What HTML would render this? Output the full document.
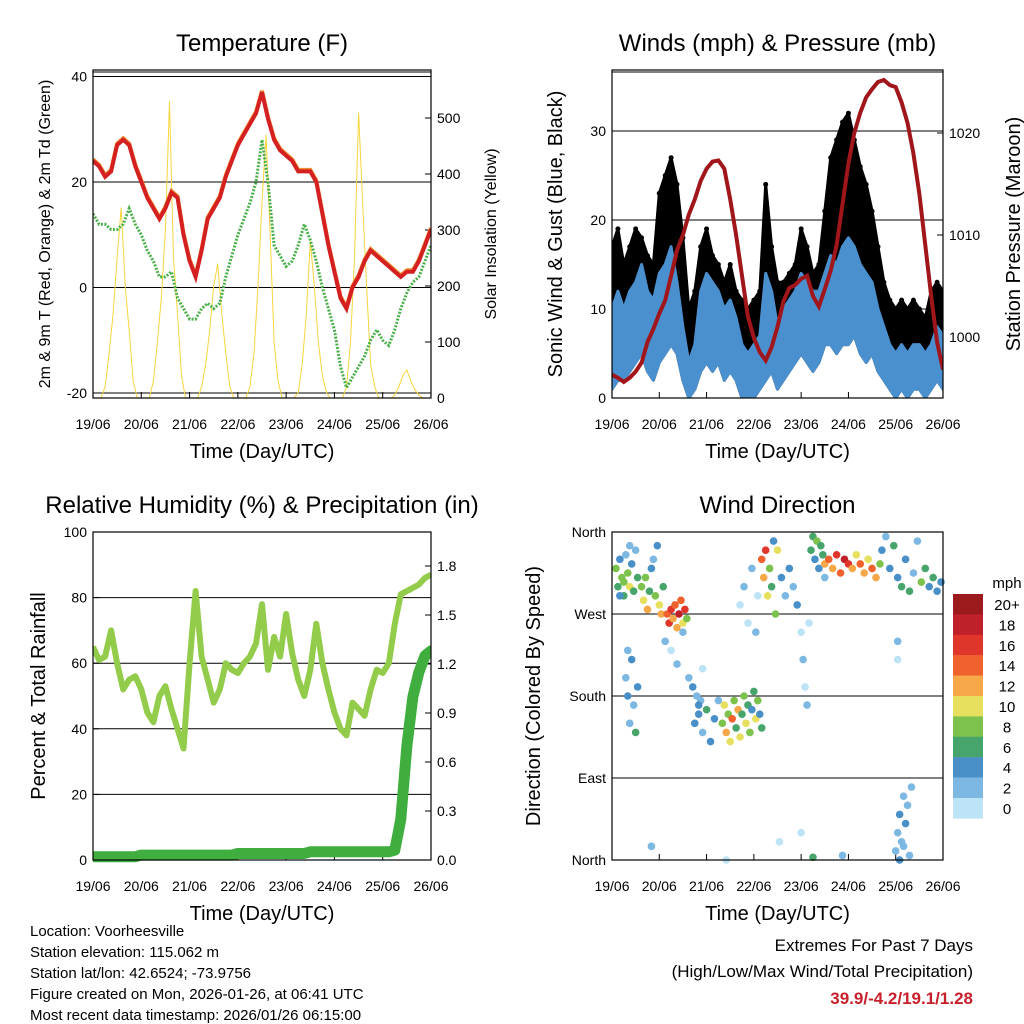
<!DOCTYPE html>
<html><head><meta charset="utf-8"><style>
body{margin:0;background:#fff;}
svg{display:block;font-family:"Liberation Sans",sans-serif;}
</style></head><body>
<svg id="s" width="1024" height="1024" viewBox="0 0 1024 1024">
<g font-size="15" fill="#000">
<text x="30" y="936">Location: Voorheesville</text>
<text x="30" y="957">Station elevation: 115.062 m</text>
<text x="30" y="978">Station lat/lon: 42.6524; -73.9756</text>
<text x="30" y="999">Figure created on Mon, 2026-01-26, at 06:41 UTC</text>
<text x="30" y="1020">Most recent data timestamp: 2026/01/26 06:15:00</text>
</g>
<g text-anchor="end">
<text x="973" y="951" font-size="17">Extremes For Past 7 Days</text>
<text x="973" y="977" font-size="17">(High/Low/Max Wind/Total Precipitation)</text>
<text x="973" y="1004" font-size="17" font-weight="bold" fill="#c8202a">39.9/-4.2/19.1/1.28</text>
</g>
</svg>
<script>
// ---- data (3-hourly, 19/06 00Z .. 26/06 00Z) ----
const dayLabels=["19/06","20/06","21/06","22/06","23/06","24/06","25/06","26/06"];
const tempF=[24,23,21,22,27,28,27,23,20,17,15,13,15,18,17,10,5,2,7,13,15,17,21,24,27,29,31,33,37,32,28,26,25,24,22,22,22,20,14,8,3,-2,-4,0,2,5,7,6,5,4,3,2,3,3,5,8,11];
const dewF=[14,12,12,11,11,12,15,12,10,7,5,2,2,3,-2,-4,-6,-6,-4,-3,-4,-3,2,6,10,13,16,20,28,20,8,6,4,5,8,12,9,5,0,-4,-8,-15,-19,-17,-15,-13,-10,-8,-10,-11,-8,-4,-1,1,2,5,8];
// solar every 2h
const solar=[0,0,0,20,80,150,250,340,200,120,30,0, 0,0,0,30,100,180,300,530,250,150,40,0, 0,0,0,20,60,120,200,240,150,80,20,0, 0,0,0,20,80,200,350,470,300,100,30,0, 0,0,0,10,60,150,280,200,100,40,10,0, 0,0,0,20,100,250,510,350,200,60,20,0, 0,0,0,5,20,40,50,30,15,5,0,0, 0];
const pressure=[996.3,996,995.6,996,996.6,997.5,999.5,1000.8,1002.3,1003.6,1006,1008.5,1010,1012,1013.5,1015.3,1016.5,1017.2,1017.3,1016.5,1013.5,1010,1006,1002,999.9,998.5,997.7,999,1001,1003.5,1004.8,1005.1,1005.7,1006,1004,1003,1004.7,1006.5,1009,1013,1017,1020,1022,1023.5,1024.3,1025,1025.2,1024.7,1024.5,1023,1021,1018,1014,1009,1004,999.5,996.8];
const windLo=[1,2,2,3,4,5,3,2,4,5,6,5,2,0,1,3,4,3,4,2,3,2,0,0,0,1,2,3,1,2,3,4,5,4,3,4,6,6,5,6,6,7,5,4,5,3,2,1,0,1,0,1,1,0,1,2,1];
const windHi=[10,12,10,12,13,15,12,11,14,15,17,13,8,4,6,12,14,13,12,10,11,9,6,5,6,7,14,12,8,10,11,12,14,13,12,12,14,16,15,17,18,17,15,14,13,10,8,6,5,6,5,6,6,5,6,8,7];
const gustHi=[17,19,15,17,19,18,16,15,23,25,27,24,18,10,12,17,19,16,15,13,15,12,11,10,11,12,24,17,13,13,14,15,19,17,14,15,21,27,29,31,32,29,26,24,21,17,13,11,10,11,10,11,10,9,12,13,12];
const rh=[65,61,62,70,60,52,55,56,52,45,42,50,53,46,40,34,60,82,62,55,48,52,60,58,57,60,62,66,78,58,68,62,75,63,55,50,58,72,60,52,45,40,38,48,46,44,52,58,57,60,72,81,82,83,84,86,87];
const rain=[0.02,0.02,0.02,0.02,0.02,0.02,0.02,0.02,0.03,0.03,0.03,0.03,0.03,0.03,0.03,0.03,0.03,0.03,0.03,0.03,0.03,0.03,0.03,0.03,0.04,0.04,0.04,0.04,0.04,0.04,0.04,0.04,0.04,0.04,0.04,0.04,0.05,0.05,0.05,0.05,0.05,0.05,0.05,0.05,0.05,0.05,0.05,0.05,0.05,0.05,0.06,0.25,0.7,1.0,1.15,1.25,1.28];
// wind direction points: [hour, degrees, mph]
const dirPts=[[2,320,8],[3,300,7],[4,330,4],[5,310,9],[6,290,6],[7,335,3],[8,315,8],[9,300,10],[10,325,5],[11,295,7],[12,340,3],[13,310,6],[6,305,8],[4,290,5],[9,345,2],
[7,200,3],[8,180,4],[9,150,2],[10,220,5],[11,170,3],[12,140,6],[8,230,2],[13,190,4],
[15,300,8],[16,285,10],[17,310,9],[18,275,12],[19,295,7],[20,320,5],[22,290,9],[24,280,11],[26,300,6],[25,270,13],[21,330,3],[23,345,4],
[28,270,14],[29,260,16],[30,275,17],[31,265,13],[32,280,15],[33,255,12],[34,270,18],[35,285,14],[36,260,11],[37,275,16],[38,265,9],
[27,240,2],[30,230,1],[33,215,3],[36,250,2],[39,200,3],[41,190,4],[43,180,2],[45,175,3],[46,210,1],[44,160,4],
[42,150,4],[44,170,5],[46,140,3],[48,165,6],[50,130,4],[52,155,5],[54,175,3],
[56,150,9],[57,170,10],[58,140,12],[59,160,8],[60,130,11],[61,155,14],[62,175,9],[63,145,7],[64,165,12],[65,135,10],[66,160,6],[67,180,8],[68,150,11],[69,170,7],[70,140,9],[71,165,5],[72,185,6],[73,155,10],[74,175,8],[75,160,4],[76,145,7],
[65,280,1],[67,300,2],[69,260,1],[71,320,2],[73,250,3],[74,290,1],
[76,330,14],[77,310,12],[78,340,16],[79,290,10],[80,320,8],[81,300,6],[82,350,4],[83,270,9],[84,340,11],
[86,310,4],[88,290,3],[90,320,5],[92,300,2],[94,280,4],[96,250,1],[97,220,2],[98,190,1],[99,170,2],[100,260,1],
[101,340,7],[102,355,6],[103,330,5],[104,350,8],[105,320,4],[106,345,7],[107,335,6],[108,310,3],
[108,325,13],[110,330,15],[112,320,12],[114,335,17],[116,315,14],[118,330,18],[120,325,16],[122,320,13],[124,335,11],[126,325,15],[128,315,12],[130,330,10],[132,320,14],[134,310,12],[136,325,9],
[137,340,4],[139,355,3],[141,320,5],[143,345,6],[145,310,4],[147,300,7],[149,330,5],[151,295,6],[153,315,3],[155,350,2],[157,305,8],[159,320,6],[161,300,5],[163,310,7],[165,295,4],[167,305,5],
[144,10,2],[145,30,3],[146,50,4],[147,20,3],[148,70,2],[149,40,4],[150,60,3],[151,5,2],[152,80,3],[146,0,4],[148,15,3],
[20,15,2],[58,0,1],[102,3,6],[85,20,1],[96,30,1],[117,5,2],[145,240,2],[145,220,1]];
const cbLabels=["20+","18","16","14","12","10","8","6","4","2","0"];
const cbColors=["#9b1a1e","#c0202a","#e0352b","#f0622d","#f6a748","#e7e05e","#7cc24d","#47a56c","#4a90c8","#7db8e2","#bde3f6"];

const NS="http://www.w3.org/2000/svg";
const svg=document.getElementById('s');
function mk(tag,at,parent){const e=document.createElementNS(NS,tag);for(const k in at)e.setAttribute(k,at[k]);(parent||svg).appendChild(e);return e;}
function txt(x,y,s,size,anchor,parent,rot){const e=mk('text',{x:x,y:y,'font-size':size,'text-anchor':anchor||'middle'},parent);if(rot)e.setAttribute('transform','rotate(-90 '+x+' '+y+')');e.textContent=s;return e;}
function lin(a,b,c,d){return v=>c+(v-a)*(d-c)/(b-a);}
function path(xs,ys,vals,xf,yf,st,parent){let d='';vals.forEach((v,i)=>{d+=(i?'L':'M')+xf(xs(i)).toFixed(1)+' '+yf(v).toFixed(1);});const p=mk('path',Object.assign({d:d,fill:'none'},st),parent);return p;}

function panel(name,x0,x1,y0,y1,title){
  const g=mk('g',{});
  
  
  const t=txt((x0+x1)/2,y0-19,title,24,'middle',g);
  
  
  const xt=txt((x0+x1)/2,y1+60,'Time (Day/UTC)',20,'middle',g);
  
  
  const xf=lin(0,7,x0,x1);
  dayLabels.forEach((l,i)=>{const x=xf(i);mk('line',{x1:x,x2:x,y1:y1,y2:y1-6,stroke:'#000'},g);
    const e=txt(x,y1+31,l,14,'middle',g);
    
    });
  return {g,xf};
}
function frame(g,x0,x1,y0,y1){mk('rect',{x:x0,y:y0,width:x1-x0,height:y1-y0,fill:'none',stroke:'#000','stroke-width':1.2},g);}
function clip(id,x0,x1,y0,y1){const c=mk('clipPath',{id:id});mk('rect',{x:x0,y:y0,width:x1-x0,height:y1-y0},c);}
function ytick(g,x,y,label,side){const dir=side==='l'?1:-1;mk('line',{x1:x,x2:x+dir*6,y1:y,y2:y,stroke:'#000'},g);
  const e=txt(side==='l'?x-6:x+6,y+5,label,14,side==='l'?'end':'start',g);
  
  }
function grid(g,x0,x1,y){mk('line',{x1:x0,x2:x1,y1:y,y2:y,stroke:'#000','stroke-width':1},g);}

// ===== Panel 1 Temperature =====
(function(){
const x0=93,x1=431,y0=70,y1=398;
const {g,xf}=panel('temperature-panel',x0,x1,y0,y1,'Temperature (F)');
clip('c1',x0,x1,y0,y1);
const yT=lin(0,20,287.5,182),yS=lin(0,100,398,342);
[-20,0,20,40].forEach(v=>{grid(g,x0,x1,yT(v));ytick(g,x0,yT(v),v,'l');});
grid(g,x0,x1,72);
[0,100,200,300,400,500].forEach(v=>ytick(g,x1,yS(v),v,'r'));
const cg=mk('g',{'clip-path':'url(#c1)'},g);
let sp=path(i=>i*2/24,null,solar,xf,yS,{stroke:'#f7d53c','stroke-width':1},cg);


let dp=path(i=>i*3/24,null,dewF,xf,yT,{stroke:'#4bb04a','stroke-width':3,'stroke-dasharray':'2 1.5'},cg);


let op=path(i=>i*3/24,null,tempF,xf,v=>yT(v)-1.5,{stroke:'#f08a30','stroke-width':4},cg);


let rp=path(i=>i*3/24,null,tempF,xf,yT,{stroke:'#d42020','stroke-width':4},cg);


frame(g,x0,x1,y0,y1);
let a=txt(50,234,'2m & 9m T (Red, Orange) & 2m Td (Green)',16,'middle',g,true);


a=txt(496,234,'Solar Insolation (Yellow)',16,'middle',g,true);


})();

// ===== Panel 2 Winds =====
(function(){
const x0=612,x1=943,y0=70,y1=398;
const {g,xf}=panel('winds-panel',x0,x1,y0,y1,'Winds (mph) & Pressure (mb)');
clip('c2',x0,x1,y0,y1);
const yW=lin(0,10,398,309),yP=lin(1000,1010,337,235);
[10,20,30].forEach(v=>grid(g,x0,x1,yW(v)));grid(g,x0,x1,72);
[0,10,20,30].forEach(v=>ytick(g,x0,yW(v),v,'l'));
[1000,1010,1020].forEach(v=>ytick(g,x1,yP(v),v,'r'));
const cg=mk('g',{'clip-path':'url(#c2)'},g);
const xs=i=>xf(i*3/24);
function band(lo,hi,color,name){let d='';hi.forEach((v,i)=>{d+=(i?'L':'M')+xs(i).toFixed(1)+' '+yW(v).toFixed(1);});
  for(let i=lo.length-1;i>=0;i--)d+='L'+xs(i).toFixed(1)+' '+yW(lo[i]).toFixed(1);d+='Z';
  const p=mk('path',{d:d,fill:color,stroke:color,'stroke-width':3,'stroke-linejoin':'round'},cg);
  
  }
band(windLo,gustHi,'#000','gust-band');
gustHi.forEach((v,i)=>{const c=mk('circle',{cx:xs(i),cy:yW(v),r:2.5,fill:'#000'},cg);
  
  });
band(windLo,windHi,'#4a90cf','wind-band');
let pp=path(i=>i*3/24,null,pressure,xf,yP,{stroke:'#a0161b','stroke-width':4},cg);


frame(g,x0,x1,y0,y1);
let a=txt(562,234,'Sonic Wind & Gust (Blue, Black)',20,'middle',g,true);


a=txt(1020,234,'Station Pressure (Maroon)',20,'middle',g,true);


})();

// ===== Panel 3 RH & Precip =====
(function(){
const x0=93,x1=431,y0=532,y1=860;
const {g,xf}=panel('humidity-panel',x0,x1,y0,y1,'Relative Humidity (%) & Precipitation (in)');
clip('c3',x0,x1,y0-8,y1+8);
const yR=lin(0,100,860,532),yN=lin(0,0.3,860,811);
[20,40,60,80].forEach(v=>grid(g,x0,x1,yR(v)));
[0,20,40,60,80,100].forEach(v=>ytick(g,x0,yR(v),v,'l'));
[0,0.3,0.6,0.9,1.2,1.5,1.8].forEach(v=>ytick(g,x1,yN(v),v.toFixed(1),'r'));
const cg=mk('g',{'clip-path':'url(#c3)'},g);
let rp=path(i=>i*3/24,null,rh,xf,yR,{stroke:'#92cc4a','stroke-width':6,'stroke-linejoin':'round'},cg);


let np=path(i=>i*3/24,null,rain,xf,yN,{stroke:'#3fae3f','stroke-width':11,'stroke-linecap':'round','stroke-linejoin':'round'},cg);


frame(g,x0,x1,y0,y1);
let a=txt(45,696,'Percent & Total Rainfall',20,'middle',g,true);


})();

// ===== Panel 4 Wind Direction =====
(function(){
const x0=612,x1=943,y0=532,y1=860;
const {g,xf}=panel('wind-direction-panel',x0,x1,y0,y1,'Wind Direction');
const yD=lin(0,360,860,532);
const names=["North","East","South","West","North"];
[90,180,270].forEach(v=>grid(g,x0,x1,yD(v)));
names.forEach((n,i)=>ytick(g,x0,yD(i*90),n,'l'));
const cg=mk('g',{},g);
dirPts.forEach(p=>{const k=10-Math.min(10,Math.floor(p[2]/2));
  const c=mk('circle',{cx:xf(p[0]/24),cy:yD(p[1]),r:3.8,fill:cbColors[k]},cg);
  
  });
frame(g,x0,x1,y0,y1);
let a=txt(540,696,'Direction (Colored By Speed)',20,'middle',g,true);


const lg=mk('g',{},svg);


const m=txt(1007,588,'mph',15,'middle',lg);


cbLabels.forEach((l,i)=>{const y=594+i*20.4;
  const r=mk('rect',{x:953,y:y,width:30,height:20.6,fill:cbColors[i]},lg);
  
  
  const t=txt(1007,y+16,l,15,'middle',lg);
  
  });
})();
</script>
</body></html>
